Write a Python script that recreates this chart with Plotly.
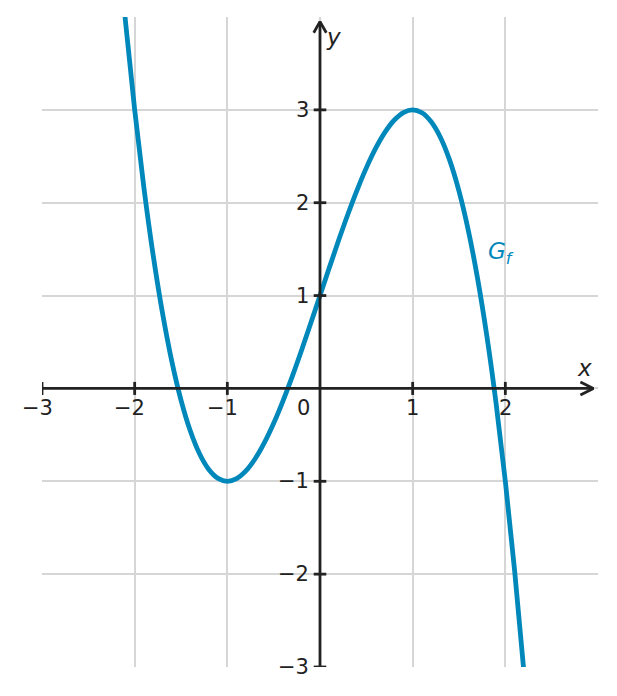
import plotly.graph_objects as go

x_vals = [-2.2, -2.1, -2.0, -1.9, -1.8, -1.7, -1.6, -1.5, -1.4, -1.3, -1.2, -1.1, -1.0,
          -0.9, -0.8, -0.7, -0.6, -0.5, -0.4, -0.3, -0.2, -0.1, 0.0,
          0.1, 0.2, 0.3, 0.4, 0.5, 0.6, 0.7, 0.8, 0.9, 1.0,
          1.1, 1.2, 1.3, 1.4, 1.5, 1.6, 1.7, 1.8, 1.9, 2.0, 2.1, 2.2, 2.3]
y_vals = [5.048, 3.961, 3.0, 2.159, 1.432, 0.813, 0.296, -0.125, -0.456, -0.703, -0.872, -0.969, -1.0,
          -0.971, -0.888, -0.757, -0.584, -0.375, -0.136, 0.127, 0.408, 0.701, 1.0,
          1.299, 1.592, 1.873, 2.136, 2.375, 2.584, 2.757, 2.888, 2.971, 3.0,
          2.969, 2.872, 2.703, 2.456, 2.125, 1.704, 1.187, 0.568, -0.159, -1.0, -1.961, -3.048, -4.267]

x_ticks = [-3, -2, -1, 1, 2]
x_tick_labels = ["−3", "−2", "−1", "1", "2"]
y_ticks = [-3, -2, -1, 1, 2, 3]
y_tick_labels = ["−3", "−2", "−1", "1", "2", "3"]

curve_color = "#0088BB"
axis_color = "#222222"
font = "DejaVu Sans"

fig = go.Figure()
fig.add_trace(go.Scatter(x=x_vals, y=y_vals, mode="lines",
                         line=dict(color=curve_color, width=4.8, shape="spline"),
                         hoverinfo="skip", showlegend=False))

# axes with chevron arrowheads, ticks
ax_x = [-3, 2.95, None, 2.81, 2.95, 2.81, None]
ax_y = [0, 0, None, 0.07, 0, -0.07, None]
ax_x += [0, 0, None, -0.068, 0, 0.068, None]
ax_y += [-3, 3.95, None, 3.83, 3.95, 3.83, None]
for xt in x_ticks:
    ax_x += [xt, xt, None]
    ax_y += [-0.07, 0.07, None]
for yt in y_ticks:
    ax_x += [-0.068, 0.068, None]
    ax_y += [yt, yt, None]
fig.add_trace(go.Scatter(x=ax_x, y=ax_y, mode="lines",
                         line=dict(color=axis_color, width=2.8),
                         hoverinfo="skip", showlegend=False, cliponaxis=False))

annotations = []
for xt, lab in zip(x_ticks, x_tick_labels):
    annotations.append(dict(x=xt, y=0, xref="x", yref="y", text=lab, showarrow=False,
                            yshift=-20, xshift=-5 if lab.startswith("−") else 0,
                            font=dict(family=font, size=21, color=axis_color)))
annotations.append(dict(x=0, y=0, xref="x", yref="y", text="0", showarrow=False,
                        yshift=-20, xshift=-17,
                        font=dict(family=font, size=21, color=axis_color)))
for yt, lab in zip(y_ticks, y_tick_labels):
    annotations.append(dict(x=0, y=yt, xref="x", yref="y", text=lab, showarrow=False,
                            xanchor="right", xshift=-9,
                            font=dict(family=font, size=21, color=axis_color)))
annotations.append(dict(x=2.85, y=0, xref="x", yref="y", text="<i>x</i>", showarrow=False,
                        yshift=20, font=dict(family=font, size=23, color=axis_color)))
annotations.append(dict(x=0, y=3.79, xref="x", yref="y", text="<i>y</i>", showarrow=False,
                        xanchor="left", xshift=4,
                        font=dict(family=font, size=23, color=axis_color)))
annotations.append(dict(x=1.95, y=1.46, xref="x", yref="y", text="<i>G<sub>f</sub></i>",
                        showarrow=False, font=dict(family=font, size=23, color=curve_color)))

fig.update_layout(
    width=617, height=696,
    margin=dict(l=34, r=27, t=9, b=37),
    plot_bgcolor="white", paper_bgcolor="white",
    annotations=annotations,
    xaxis=dict(range=[-3, 3], dtick=1, tick0=-3, showgrid=True, gridcolor="#D6D6D6",
               gridwidth=2, zeroline=False, showticklabels=False, showline=False,
               fixedrange=True),
    yaxis=dict(range=[-3, 4], dtick=1, tick0=-3, showgrid=True, gridcolor="#D6D6D6",
               gridwidth=2, zeroline=False, showticklabels=False, showline=False,
               fixedrange=True),
)
fig.write_html("out.html")
